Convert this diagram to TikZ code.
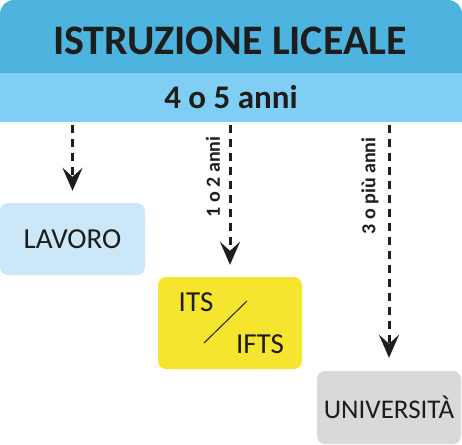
\documentclass[tikz,border=0pt]{standalone}
\usepackage{fontspec}
\setmainfont{Carlito}
\usetikzlibrary{arrows.meta}
\definecolor{headblue}{HTML}{4DB4E0}
\definecolor{bandblue}{HTML}{80CEF3}
\definecolor{lightblue}{HTML}{CCE8F8}
\definecolor{yel}{HTML}{F5E52E}
\definecolor{gry}{HTML}{D9D9D9}
\definecolor{ink}{HTML}{1D1D1B}
\tikzset{
  box/.style={rounded corners=8pt, inner sep=0pt, text=ink},
  arr/.style={draw=ink, line width=3pt, dash pattern=on 8pt off 6pt,
    -{Stealth[length=23pt, width=20pt, inset=9pt]}, shorten <=3pt, shorten >=12pt},
  lbl/.style={font=\fontsize{20}{20}\selectfont\bfseries, text=ink, rotate=90},
}
\begin{document}
\begin{tikzpicture}[x=1pt,y=-1pt]
\useasboundingbox (0,0) rectangle (462,444);
\fill[headblue, rounded corners=14pt] (0,0) rectangle (462,100);
\fill[bandblue] (0,73) rectangle (462,122);
\node[text=ink, font=\fontsize{42}{42}\selectfont\bfseries] (title) at (230,41) {ISTRUZIONE LICEALE};
\node[text=ink, font=\fontsize{33}{33}\selectfont\bfseries, minimum width=462pt, minimum height=49pt, inner sep=0pt] (band) at (231,97.5) {4 o 5 anni};
\node[box, fill=lightblue, minimum width=145pt, minimum height=72pt, font=\fontsize{29}{29}\selectfont] (lavoro) at (72.5,239) {LAVORO};
\node[box, fill=yel, minimum width=144pt, minimum height=92pt] (its) at (230,323) {};
\node[text=ink, font=\fontsize{29}{29}\selectfont] (itst) at (196,302) {ITS};
\node[text=ink, font=\fontsize{29}{29}\selectfont] (iftst) at (260,344) {IFTS};
\draw[ink, line width=1pt] (204,343) -- (247,301);
\node[box, fill=gry, minimum width=144pt, minimum height=73pt, font=\fontsize{27}{27}\selectfont] (univ) at (389,407.5) {UNIVERSITÀ};
\draw[arr] (lavoro.north |- band.south) -- (lavoro.north);
\draw[arr] (its.north |- band.south) -- (its.north);
\draw[arr, shorten >=13pt] (univ.north |- band.south) -- (univ.north);
\node[lbl] (l1) at (213,177) {1 o 2 anni};
\node[lbl] (l2) at (370,186) {3 o più anni};
\end{tikzpicture}
\end{document}
